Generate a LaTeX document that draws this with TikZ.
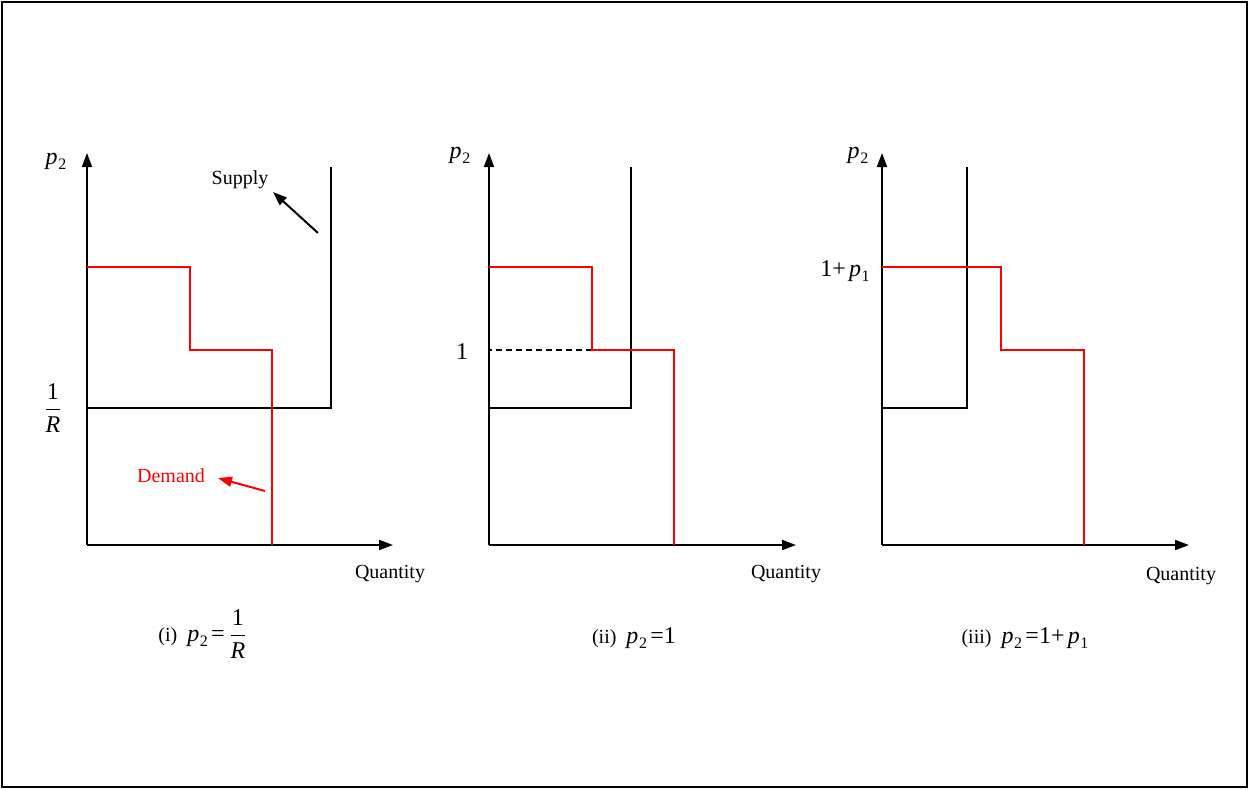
\documentclass[tikz,border=0pt]{standalone}
\usepackage{amsmath}
\usepackage{fontspec}
\setmainfont{Liberation Serif}
\usetikzlibrary{arrows.meta}
\newcommand{\mth}{\fontsize{12}{14}\selectfont}
\newcommand{\ptwo}{{\mth\textit{p}\kern0.3pt\raisebox{-0.45ex}{\fontsize{8}{9}\selectfont 2}}}
\newcommand{\pone}{{\mth\textit{p}\kern0.3pt\raisebox{-0.45ex}{\fontsize{8}{9}\selectfont 1}}}
\newcommand{\oneR}{{\mth$\dfrac{\text{\mth 1}}{\text{\mth\itshape R}}$}}
\begin{document}
\begin{tikzpicture}[x=0.5pt,y=-0.5pt,
  axis/.style={line width=1pt,-{Triangle[length=7pt,width=5pt]}},
  supply/.style={line width=1pt,black},
  demand/.style={line width=1pt,red},
  lab/.style={font=\fontsize{10}{12}\selectfont,inner sep=0pt},
  pointer/.style={line width=1pt,-{Triangle[length=7pt,width=5pt]}}]
\useasboundingbox (0,0) rectangle (1249,789);
\draw[line width=0.6pt] (2,2) rectangle (1247,787);
% ---------- panel (i)
\coordinate (o1) at (87,545);
\coordinate (y1) at (87,153);
\coordinate (x1) at (393,545);
\draw[axis] (o1) -- (y1);
\draw[axis] (o1) -- (x1);
\coordinate (s1a) at (331,167);
\coordinate (s1b) at (331,408);
\coordinate (s1c) at (87,408);
\draw[supply] (s1a) -- (s1b) -- (s1c);
\coordinate (d1a) at (87,267);
\coordinate (d1b) at (190,267);
\coordinate (d1c) at (190,350);
\coordinate (d1d) at (272,350);
\coordinate (d1e) at (272,545);
\draw[demand] (d1a) -- (d1b) -- (d1c) -- (d1d) -- (d1e);
\node[lab] (p2a) at (56,161) {\ptwo};
\node[lab] (r1) at (53,408) {\oneR};
\node[lab] (supl) at (240,180) {Supply};
\coordinate (sa) at (318,233);
\coordinate (sb) at (273,192);
\draw[pointer] (sa) -- (sb);
\node[lab,text=red] (deml) at (171,476) {Demand};
\coordinate (da) at (265,491);
\coordinate (db) at (218,478);
\draw[pointer,red] (da) -- (db);
\node[lab] (q1) at (390,574) {Quantity};
\node[lab] (c1) at (203,634) {(i)\ \ \ptwo\,{\mth =}\,\oneR};
% ---------- panel (ii)
\coordinate (o2) at (489,545);
\coordinate (y2) at (489,153);
\coordinate (x2) at (796,545);
\draw[axis] (o2) -- (y2);
\draw[axis] (o2) -- (x2);
\coordinate (s2a) at (631,167);
\coordinate (s2b) at (631,408);
\coordinate (s2c) at (489,408);
\draw[supply] (s2a) -- (s2b) -- (s2c);
\coordinate (d2a) at (489,267);
\coordinate (d2b) at (592,267);
\coordinate (d2c) at (592,350);
\coordinate (d2d) at (674,350);
\coordinate (d2e) at (674,545);
\draw[line width=0.6pt,dash pattern=on 3pt off 2pt] (d2c) -- (489,350);
\draw[demand] (d2a) -- (d2b) -- (d2c) -- (d2d) -- (d2e);
\node[lab] (p2b) at (460,155) {\ptwo};
\node[lab] (one) at (462,352) {\mth 1};
\node[lab] (q2) at (786,574) {Quantity};
\node[lab] (c2) at (634,638) {(ii)\ \ \ptwo\,{\mth =1}};
% ---------- panel (iii)
\coordinate (o3) at (882,545);
\coordinate (y3) at (882,153);
\coordinate (x3) at (1189,545);
\draw[axis] (o3) -- (y3);
\draw[axis] (o3) -- (x3);
\coordinate (s3a) at (967,167);
\coordinate (s3b) at (967,408);
\coordinate (s3c) at (882,408);
\draw[supply] (s3a) -- (s3b) -- (s3c);
\coordinate (d3a) at (882,267);
\coordinate (d3b) at (1001,267);
\coordinate (d3c) at (1001,350);
\coordinate (d3d) at (1084,350);
\coordinate (d3e) at (1084,545);
\draw[demand] (d3a) -- (d3b) -- (d3c) -- (d3d) -- (d3e);
\node[lab] (p2c) at (858,155) {\ptwo};
\node[lab] (onep) at (845,271) {{\mth 1+}\,\pone};
\node[lab] (q3) at (1181,576) {Quantity};
\node[lab] (c3) at (1025,638) {(iii)\ \ \ptwo\,{\mth =1+}\,\pone};
\end{tikzpicture}
\end{document}
